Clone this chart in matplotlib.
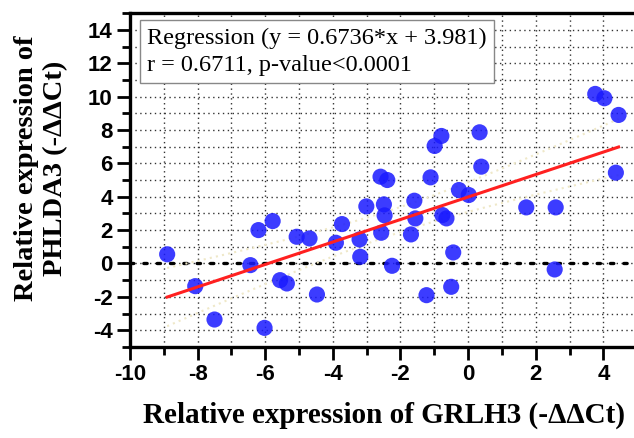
import numpy as np
import matplotlib
matplotlib.use('Agg')
import matplotlib.pyplot as plt
from matplotlib.ticker import MultipleLocator

# GRLH3 vs PHLDA3 relative expression (-ddCt)
grlh3 = [-8.90, -8.07, -7.50, -6.44, -6.20, -6.02, -5.78, -5.56, -5.36, -5.07,
         -4.69, -4.47, -3.91, -3.73, -3.21, -3.19, -3.01, -2.59, -2.57, -2.49,
         -2.47, -2.39, -2.25, -1.69, -1.59, -1.56, -1.23, -1.11, -0.99, -0.79,
         -0.76, -0.64, -0.50, -0.44, -0.27, 0.02, 0.34, 0.39, 1.72, 2.59,
         2.56, 3.76, 4.03, 4.45, 4.37]
phlda3 = [0.55, -1.36, -3.36, -0.10, 2.00, -3.86, 2.54, -1.00, -1.20, 1.60,
          1.50, -1.86, 1.24, 2.36, 1.44, 0.40, 3.42, 5.20, 1.84, 3.54,
          2.88, 5.00, -0.14, 1.74, 3.76, 2.70, -1.90, 5.16, 7.04, 7.64,
          2.90, 2.70, -1.40, 0.66, 4.40, 4.10, 7.86, 5.80, 3.36, 3.36,
          -0.36, 10.16, 9.90, 8.90, 5.44]

slope = 0.6736
intercept = 3.981
stats_text = "Regression (y = 0.6736*x + 3.981)\nr = 0.6711, p-value<0.0001"

x_label = "Relative expression of GRLH3 (-\u0394\u0394Ct)"
y_label = "Relative expression of\nPHLDA3 (-\u0394\u0394Ct)"

serif = ['Liberation Serif', 'DejaVu Serif']
sans = ['Liberation Sans', 'DejaVu Sans']

plt.rcParams['axes.unicode_minus'] = False


def confidence_band(x, y, xs):
    # 95% band of the fitted line
    x = np.asarray(x)
    y = np.asarray(y)
    n = len(x)
    resid = y - (slope * x + intercept)
    s = np.sqrt(np.sum(resid ** 2) / (n - 2))
    se = s * np.sqrt(1.0 / n + (xs - x.mean()) ** 2 / np.sum((x - x.mean()) ** 2))
    return 2.015 * se


def make_plot():
    fig = plt.figure(figsize=(6.34, 4.38), dpi=100)
    ax = fig.add_axes([0.205, 0.208, 0.80, 0.762])

    ax.set_xlim(-10, 5)
    ax.set_ylim(-5, 15)
    ax.xaxis.set_major_locator(MultipleLocator(2))
    ax.xaxis.set_minor_locator(MultipleLocator(1))
    ax.yaxis.set_major_locator(MultipleLocator(2))
    ax.yaxis.set_minor_locator(MultipleLocator(1))

    # dotted grid on every unit
    ax.grid(True, which='both', color='#333333', linestyle=(0, (1, 2.5)), linewidth=1.0)
    ax.set_axisbelow(True)
    ax.axhline(0, color='black', linestyle=(0, (1, 3)), linewidth=2.4,
               dash_capstyle='round', zorder=1)

    xs = np.linspace(min(grlh3), max(grlh3), 100)
    fit = slope * xs + intercept
    band = confidence_band(grlh3, phlda3, xs)
    ax.plot(xs, fit + band, color='#efe8c8', linestyle=(0, (1, 2)), linewidth=1.5, zorder=2)
    ax.plot(xs, fit - band, color='#efe8c8', linestyle=(0, (1, 2)), linewidth=1.5, zorder=2)

    ax.scatter(grlh3, phlda3, s=135, color='#1a1aff', alpha=0.85, edgecolors='none', zorder=3)
    ax.plot(xs, fit, color='#ff2020', linewidth=2.2, zorder=4)

    ax.text(-9.5, 14.15, stats_text, fontsize=17.5, family=serif, va='top', ha='left',
            linespacing=1.4, zorder=5,
            bbox=dict(boxstyle='square,pad=0.3', facecolor='white', edgecolor='#888888', linewidth=1))

    for side in ['left', 'bottom', 'top', 'right']:
        ax.spines[side].set_linewidth(2.4)
    ax.tick_params(which='major', direction='out', length=9.5, width=2.0, pad=3)
    ax.tick_params(which='minor', direction='out', length=6, width=2.0)
    ax.tick_params(axis='both', labelsize=16)
    for lab in ax.get_xticklabels() + ax.get_yticklabels():
        lab.set_family(sans)
        lab.set_fontweight('bold')

    ax.set_xlabel(x_label, fontsize=21, family=serif, fontweight='bold', labelpad=12)
    ax.set_ylabel(y_label, fontsize=20.5, family=serif, fontweight='bold')
    ax.yaxis.set_label_coords(-0.122, 0.535)

    fig.savefig('out.png', dpi=100)


if __name__ == '__main__':
    make_plot()
